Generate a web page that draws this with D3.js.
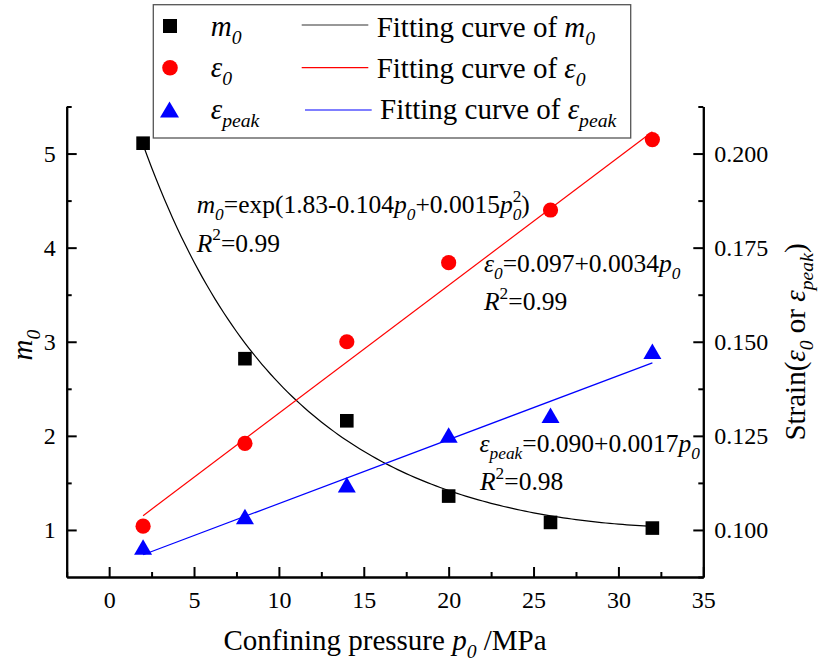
<!DOCTYPE html>
<html>
<head>
<meta charset="utf-8">
<script src="https://cdn.jsdelivr.net/npm/d3@7"></script>
<style>
  html, body { margin: 0; padding: 0; background: #fff; }
  svg { display: block; }
  text { font-family: "Liberation Serif", "Times New Roman", serif; fill: #000; }
</style>
</head>
<body>
<svg id="chart" width="818" height="666"></svg>
<script>
// Measured values at each confining pressure (MPa)
const pressure = [2, 8, 14, 20, 26, 32];
const m0Values = [5.11, 2.82, 2.16, 1.36, 1.08, 1.02];
const eps0Values = [0.101, 0.123, 0.150, 0.171, 0.185, 0.2037];
const epsPeakValues = [0.0955, 0.1036, 0.112, 0.1252, 0.1305, 0.1475];

// Fitted relations as printed on the chart
const m0FitCoef = [1.83, -0.104, 0.0015];   // m0 = exp(a + b p + c p^2)
const eps0FitCoef = [0.097, 0.0034];         // eps0 = a + b p
const epsPeakFitCoef = [0.090, 0.0017];      // epsPeak = a + b p
const fitRange = [2, 32];

// Axis ticks
const xTicks = [0, 5, 10, 15, 20, 25, 30, 35];
const xMinorTicks = [-2.5, 2.5, 7.5, 12.5, 17.5, 22.5, 27.5, 32.5];
const leftTicks = [1, 2, 3, 4, 5];
const leftMinorTicks = [1.5, 2.5, 3.5, 4.5, 5.5];
const rightTicks = [0.100, 0.125, 0.150, 0.175, 0.200];
const rightMinorTicks = [0.0875, 0.1125, 0.1375, 0.1625, 0.1875, 0.2125];

const svg = d3.select("#chart");
const plotLeft = 66.7, plotRight = 703.3, plotTop = 106.5, plotBottom = 577;

const x = d3.scaleLinear().domain([-2.5, 35]).range([plotLeft, plotRight]);
const yL = d3.scaleLinear().domain([0.5, 5.5]).range([plotBottom, plotTop]);
const yR = d3.scaleLinear().domain([0.0875, 0.2125]).range([plotBottom, plotTop]);

// Rich text helper: italics, subscripts and superscripts via tspans
function rich(g, px, py, size, parts, attrs) {
  const t = g.append("text").attr("x", px).attr("y", py).style("font-size", size + "px");
  if (attrs) Object.entries(attrs).forEach(([k, v]) => t.attr(k, v));
  let shift = 0;
  parts.forEach(p => {
    const target = p.sub ? 0.28 * size : (p.sup ? -0.44 * size : 0);
    const s = t.append("tspan").text(p.t);
    if (target !== shift) s.attr("dy", target - shift);
    shift = target;
    if (p.italic) s.style("font-style", "italic");
    if (p.sub || p.sup) s.style("font-size", (0.68 * size) + "px");
    if (p.dx) s.attr("dx", p.dx);
  });
  return t;
}

// ---- Axes ----
function styleAxis(g, width) {
  g.attr("font-family", null);
  g.select(".domain").attr("stroke", "#000").attr("stroke-width", width);
  g.selectAll(".tick line").attr("stroke", "#000").attr("stroke-width", width);
  g.selectAll(".tick text")
    .style("font-family", '"Liberation Serif", serif').style("font-size", "24px").attr("fill", "#000");
}

const xAxis = svg.append("g").attr("transform", `translate(0,${plotBottom})`)
  .call(d3.axisBottom(x).tickValues(xTicks).tickSizeInner(-10).tickSizeOuter(0).tickPadding(14).tickFormat(d3.format("d")));
styleAxis(xAxis, 2);
const xMinor = svg.append("g").attr("transform", `translate(0,${plotBottom})`)
  .call(d3.axisBottom(x).tickValues(xMinorTicks).tickSizeInner(-5).tickSizeOuter(0).tickFormat(""));
styleAxis(xMinor, 2);

const yAxisL = svg.append("g").attr("transform", `translate(${plotLeft},0)`)
  .call(d3.axisLeft(yL).tickValues(leftTicks).tickSizeInner(-10).tickSizeOuter(0).tickPadding(11).tickFormat(d3.format("d")));
styleAxis(yAxisL, 2);
const yMinorL = svg.append("g").attr("transform", `translate(${plotLeft},0)`)
  .call(d3.axisLeft(yL).tickValues(leftMinorTicks).tickSizeInner(-5).tickSizeOuter(0).tickFormat(""));
styleAxis(yMinorL, 2);

const yAxisR = svg.append("g").attr("transform", `translate(${plotRight},0)`)
  .call(d3.axisRight(yR).tickValues(rightTicks).tickSizeInner(-10).tickSizeOuter(0).tickPadding(11).tickFormat(d3.format(".3f")));
styleAxis(yAxisR, 2);
const yMinorR = svg.append("g").attr("transform", `translate(${plotRight},0)`)
  .call(d3.axisRight(yR).tickValues(rightMinorTicks).tickSizeInner(-5).tickSizeOuter(0).tickFormat(""));
styleAxis(yMinorR, 2);

// Axis titles
rich(svg, (plotLeft + plotRight) / 2, 650, 29, [
  { t: "Confining pressure " }, { t: "p", italic: true }, { t: "0", italic: true, sub: true }, { t: " /MPa" }
], { "text-anchor": "middle" });

rich(svg, 0, 0, 29, [{ t: "m", italic: true }, { t: "0", italic: true, sub: true }],
  { "text-anchor": "middle", transform: "translate(32,345) rotate(-90)" });

rich(svg, 0, 0, 29, [
  { t: "Strain(" }, { t: "ε", italic: true }, { t: "0", italic: true, sub: true },
  { t: " or " }, { t: "ε", italic: true }, { t: "peak", italic: true, sub: true }, { t: ")" }
], { "text-anchor": "middle", transform: "translate(805,342) rotate(-90)" });

// ---- Fitted curves ----
const samples = d3.range(fitRange[0], fitRange[1] + 0.001, 0.25);
const line = d3.line();

svg.append("path")
  .attr("d", line(samples.map(p => [x(p), yL(Math.exp(m0FitCoef[0] + m0FitCoef[1] * p + m0FitCoef[2] * p * p))])))
  .attr("fill", "none").attr("stroke", "#000").attr("stroke-width", 1.2);

svg.append("path")
  .attr("d", line(fitRange.map(p => [x(p), yR(eps0FitCoef[0] + eps0FitCoef[1] * p)])))
  .attr("fill", "none").attr("stroke", "#ff0000").attr("stroke-width", 1.2);

svg.append("path")
  .attr("d", line(fitRange.map(p => [x(p), yR(epsPeakFitCoef[0] + epsPeakFitCoef[1] * p)])))
  .attr("fill", "none").attr("stroke", "#0000ff").attr("stroke-width", 1.2);

// ---- Markers ----
function triPath(cx, cy, w, h) {
  return `M${cx},${cy - h / 2}L${cx + w / 2},${cy + h / 2}L${cx - w / 2},${cy + h / 2}Z`;
}

svg.append("g").selectAll("rect").data(pressure).join("rect")
  .attr("x", (d) => x(d) - 6.8).attr("y", (d, i) => yL(m0Values[i]) - 6.8)
  .attr("width", 13.6).attr("height", 13.6).attr("fill", "#000");

svg.append("g").selectAll("circle").data(pressure).join("circle")
  .attr("cx", d => x(d)).attr("cy", (d, i) => yR(eps0Values[i])).attr("r", 7.6).attr("fill", "#ff0000");

svg.append("g").selectAll("path").data(pressure).join("path")
  .attr("d", (d, i) => triPath(x(d), yR(epsPeakValues[i]), 18, 15.5)).attr("fill", "#0000ff");

// ---- Equations ----
const eq = svg.append("g");
rich(eq, 196.7, 213, 25.5, [
  { t: "m", italic: true }, { t: "0", italic: true, sub: true }, { t: "=exp(1.83-0.104" },
  { t: "p", italic: true }, { t: "0", italic: true, sub: true }, { t: "+0.0015" },
  { t: "p", italic: true }, { t: "0", italic: true, sub: true }, { t: "2", sup: true, dx: -8.7 }, { t: ")" }
]);
rich(eq, 196.7, 251.5, 25.5, [{ t: "R", italic: true }, { t: "2", sup: true }, { t: "=0.99" }]);

rich(eq, 484, 271.5, 25.5, [
  { t: "ε", italic: true }, { t: "0", italic: true, sub: true }, { t: "=0.097+0.0034" },
  { t: "p", italic: true }, { t: "0", italic: true, sub: true }
]);
rich(eq, 484, 310, 25.5, [{ t: "R", italic: true }, { t: "2", sup: true }, { t: "=0.99" }]);

rich(eq, 479.5, 451.5, 25.5, [
  { t: "ε", italic: true }, { t: "peak", italic: true, sub: true }, { t: "=0.090+0.0017" },
  { t: "p", italic: true }, { t: "0", italic: true, sub: true }
]);
rich(eq, 480, 490, 25.5, [{ t: "R", italic: true }, { t: "2", sup: true }, { t: "=0.98" }]);

// ---- Legend ----
const lg = svg.append("g");
lg.append("rect").attr("x", 153.3).attr("y", 4.7).attr("width", 477.4).attr("height", 133.3)
  .attr("fill", "#fff").attr("stroke", "#555").attr("stroke-width", 1.3);

const rowsY = [26, 67.7, 109.5];
lg.append("rect").attr("x", 170 - 7).attr("y", rowsY[0] - 7).attr("width", 14).attr("height", 14).attr("fill", "#000");
lg.append("circle").attr("cx", 170).attr("cy", rowsY[1]).attr("r", 7.8).attr("fill", "#ff0000");
lg.append("path").attr("d", triPath(169.5, rowsY[2], 19, 16)).attr("fill", "#0000ff");

rich(lg, 210.7, 35.5, 29, [{ t: "m", italic: true }, { t: "0", italic: true, sub: true }]);
rich(lg, 210.7, 77, 29, [{ t: "ε", italic: true }, { t: "0", italic: true, sub: true }]);
rich(lg, 210.7, 118.5, 29, [{ t: "ε", italic: true }, { t: "peak", italic: true, sub: true }]);

lg.append("line").attr("x1", 301.7).attr("x2", 368.3).attr("y1", 25).attr("y2", 25).attr("stroke", "#333").attr("stroke-width", 1.2);
lg.append("line").attr("x1", 301.7).attr("x2", 368.3).attr("y1", 67.7).attr("y2", 67.7).attr("stroke", "#ff0000").attr("stroke-width", 1.2);
lg.append("line").attr("x1", 305).attr("x2", 371.7).attr("y1", 110).attr("y2", 110).attr("stroke", "#0000ff").attr("stroke-width", 1.2);

rich(lg, 376.7, 36.5, 29, [{ t: "Fitting curve of " }, { t: "m", italic: true }, { t: "0", italic: true, sub: true }]);
rich(lg, 376.7, 77.5, 29, [{ t: "Fitting curve of " }, { t: "ε", italic: true }, { t: "0", italic: true, sub: true }]);
rich(lg, 380, 119, 29, [{ t: "Fitting curve of " }, { t: "ε", italic: true }, { t: "peak", italic: true, sub: true }]);
</script>
</body>
</html>
